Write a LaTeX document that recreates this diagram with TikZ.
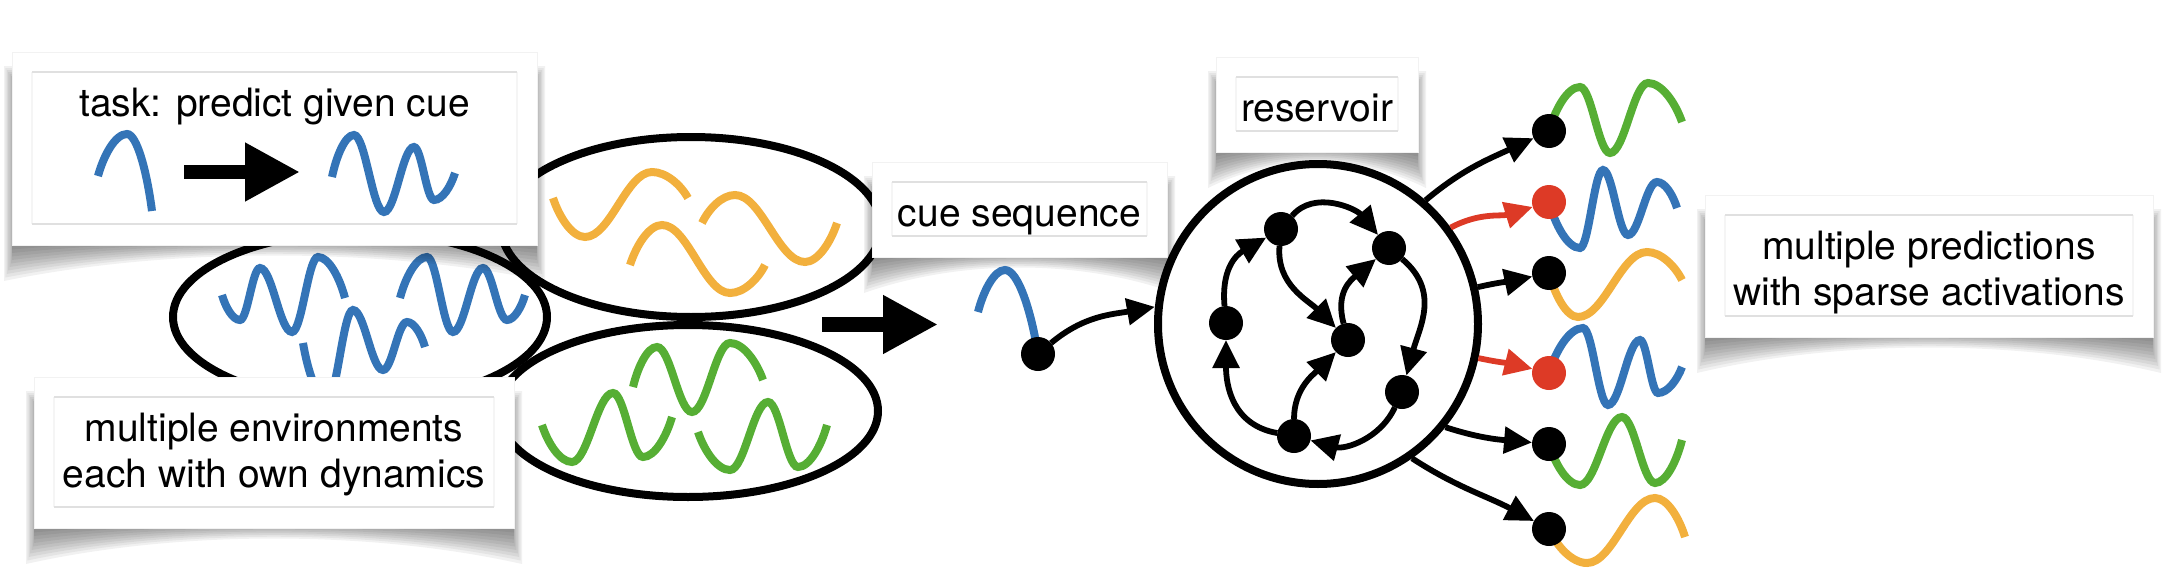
\documentclass[tikz,border=0pt]{standalone}
\usepackage{fontspec}
\setmainfont{TeX Gyre Heros}
\usetikzlibrary{arrows.meta,calc}
\definecolor{wblue}{RGB}{52,116,183}
\definecolor{worange}{RGB}{242,176,61}
\definecolor{wgreen}{RGB}{86,174,52}
\definecolor{dred}{RGB}{221,58,38}
\tikzset{
  ws/.style={to path={let \p1=(\tikztostart),\p2=(\tikztotarget) in
     .. controls +({0.2*(\x2-\x1)},{0.5*(\y2-\y1)}) and +({-0.4*(\x2-\x1)},0pt) .. (\p2)}},
  hw/.style={to path={let \p1=(\tikztostart),\p2=(\tikztotarget) in
     .. controls +({0.38*(\x2-\x1)},0pt) and +({-0.38*(\x2-\x1)},0pt) .. (\p2)}},
  we/.style={to path={let \p1=(\tikztostart),\p2=(\tikztotarget) in
     .. controls +({0.4*(\x2-\x1)},0pt) and +({-0.2*(\x2-\x1)},{-0.5*(\y2-\y1)}) .. (\p2)}},
}
\newcommand\cshadow[4]{%
  \foreach \i in {0,...,9}{%
    \fill[black,opacity=0.055]
      ({#1-max(0,8-1.4*\i)},{#2+14+2*\i}) --
      ({#1-max(0,8-1.4*\i)},{#4+36-3.5*\i}) .. controls
      ({#1+0.3*(#3-#1)},{#4+2-1.2*\i}) and ({#3-0.3*(#3-#1)},{#4+2-1.2*\i}) ..
      ({#3+max(0,8-1.4*\i)},{#4+36-3.5*\i}) --
      ({#3+max(0,8-1.4*\i)},{#2+14+2*\i}) -- cycle;
  }%
}
\newcommand\infobox[4]{%
  \cshadow{#1}{#2}{#3}{#4}
  \fill[white] (#1,#2) rectangle (#3,#4);
  \draw[black!5, line width=0.1mm] (#1,#2) rectangle (#3,#4);
  \draw[black!4, line width=0.12mm] ({#1+20},{#2+20}) -- ({#1+20},{#4-21}) ({#3-20},{#2+20}) -- ({#3-20},{#4-21});
  \draw[black!12, line width=0.15mm] ({#1+20},{#2+20}) -- ({#3-20},{#2+20}) ({#1+20},{#4-21}) -- ({#3-20},{#4-21});
}
\begin{document}
\begin{tikzpicture}[x=0.1mm,y=-0.1mm,
  wave/.style={line width=0.8mm},
  ell/.style={draw=black,line width=0.8mm},
  lbl/.style={font=\fontsize{11.1}{13.1}\selectfont,inner sep=0pt,text=black},
  nd/.style={circle,fill=black,inner sep=0pt,minimum size=3.4mm,outer sep=0pt},
  rnd/.style={nd,fill=dred},
  rarr/.style={line width=0.58mm,-{Triangle[length=2.8mm,width=2.6mm]}},
  fat/.style={line width=1.45mm,-{Triangle[length=5.5mm,width=5.5mm]}},
]
\useasboundingbox (0,0) rectangle (2174,568);

% environments
\draw[ell] (360,317) ellipse [x radius=18.7mm, y radius=8.5mm];
\draw[ell] (691,227) ellipse [x radius=19mm, y radius=9mm];
\draw[ell] (688,411) ellipse [x radius=19mm, y radius=8.6mm];

\draw[wave,wblue] (222,295) to[ws] (240,320) to[hw] (260,268) to[hw] (292,332) to[hw] (318,257) to[we] (345,298);
\draw[wave,wblue] (303,343) to[ws] (327,400) to[hw] (353,310) to[hw] (383,370) to[hw] (407,322) to[we] (425,347);
\draw[wave,wblue] (400,298) to[ws] (427,257) to[hw] (453,332) to[hw] (483,268) to[hw] (507,320) to[we] (525,295);

\draw[wave,worange] (553,198) to[ws] (585,237) to[hw] (652,172) to[we] (688,198);
\draw[wave,worange] (630,265) to[ws] (662,225) to[hw] (730,293) to[we] (765,265);
\draw[wave,worange] (702,223) to[ws] (735,195) to[hw] (805,262) to[we] (837,223);

\draw[wave,wgreen] (542,425) to[ws] (572,462) to[hw] (613,393) to[hw] (643,457) to[we] (672,417);
\draw[wave,wgreen] (633,387) to[ws] (657,347) to[hw] (692,412) to[hw] (730,343) to[we] (763,380);
\draw[wave,wgreen] (698,432) to[ws] (730,470) to[hw] (768,402) to[hw] (798,467) to[we] (827,425);

% boxes
\infobox{12}{52}{537}{245}
\node[lbl,anchor=base] (tasktxt) at (274.5,116) {task: predict given cue};
\draw[wave,wblue] (98,176) to[ws] (127,134) to[we] (152,211);
\coordinate (ta1) at (184,172);
\coordinate (ta2) at (300,172);
\draw[fat] (ta1) -- (ta2);
\draw[wave,wblue] (332,177) to[ws] (354,135) to[hw] (384,212) to[hw] (414,147) to[hw] (434,200) to[we] (455,173);

\infobox{34}{377}{514}{528}
\node[lbl,align=center] (envtxt) at (274,455) {multiple environments\\each with own dynamics};

\infobox{872}{162}{1167}{257}
\node[lbl,anchor=base] (cuetxt) at (1019.5,226) {cue sequence};

\infobox{1216}{57}{1418}{152}
\node[lbl,anchor=base] (restxt) at (1317,121) {reservoir};

\infobox{1705}{195}{2153}{337}
\node[lbl,align=center] (predtxt) at (1929,273) {multiple predictions\\with sparse activations};

% big arrow
\coordinate (ba1) at (822,324.5);
\coordinate (ba2) at (938,324.5);
\draw[fat] (ba1) -- (ba2);

% cue
\coordinate (cuec) at (1038,354);
\draw[wave,wblue] (978,312) to[ws] (1005,270) to[we] (cuec);
\node[nd] (cue) at (cuec) {};

% reservoir
\node[circle,draw,line width=0.8mm,fill=white,minimum size=32mm,inner sep=0pt] (res) at (1318,324) {};
\draw[rarr] (cue) to[out=40,in=190] (res.174);

\node[nd] (nA) at (1281,229) {};
\node[nd] (nB) at (1389,248) {};
\node[nd] (nC) at (1226,323) {};
\node[nd] (nD) at (1348,340) {};
\node[nd] (nE) at (1402,392) {};
\node[nd] (nF) at (1294,436) {};
\draw[rarr] (nC) to[out=95,in=210,looseness=1.15] (nA);
\draw[rarr] (nA) to[out=50,in=130] (nB);
\draw[rarr] (nA) to[out=-95,in=135] (nD);
\draw[rarr] (nD) to[out=105,in=220,looseness=1.15] (nB);
\draw[rarr] (nB) to[out=-40,in=75,looseness=1.1] (nE);
\draw[rarr] (nE) to[out=-115,in=-15] (nF);
\draw[rarr] (nF) to[out=170,in=-90,looseness=1.1] (nC);
\draw[rarr] (nF) to[out=90,in=225] (nD);

% outputs
\coordinate (o1c) at (1549,131);
\coordinate (o2c) at (1549,202);
\coordinate (o3c) at (1549,273);
\coordinate (o4c) at (1549,373);
\coordinate (o5c) at (1549,444);
\coordinate (o6c) at (1549,529);
\draw[wave,wgreen] (o1c) to[ws] (1580,87) to[hw] (1610,153) to[hw] (1648,83) to[we] (1682,122);
\draw[wave,wblue] (o2c) to[ws] (1580,248) to[hw] (1603,170) to[hw] (1628,235) to[hw] (1657,182) to[we] (1677,208);
\draw[wave,worange] (o3c) to[ws] (1578,317) to[hw] (1647,252) to[we] (1682,280);
\draw[wave,wblue] (o4c) to[ws] (1583,328) to[hw] (1608,405) to[hw] (1640,340) to[hw] (1658,393) to[we] (1682,367);
\draw[wave,wgreen] (o5c) to[ws] (1580,485) to[hw] (1622,417) to[hw] (1655,483) to[we] (1682,440);
\draw[wave,worange] (o6c) to[ws] (1587,563) to[hw] (1655,498) to[we] (1685,537);
\node[nd] (o1) at (o1c) {};
\node[rnd] (o2) at (o2c) {};
\node[nd] (o3) at (o3c) {};
\node[rnd] (o4) at (o4c) {};
\node[nd] (o5) at (o5c) {};
\node[nd] (o6) at (o6c) {};
\draw[rarr] (res.49) to[out=40,in=205] (o1);
\draw[rarr,dred] (res.36) to[out=28,in=197] (o2);
\draw[rarr] (res.13) to[out=13,in=192] (o3);
\draw[rarr,dred] (res.-12) to[out=-12,in=166] (o4);
\draw[rarr] (res.-39) to[out=-18,in=175] (o5);
\draw[rarr] (res.-55) to[out=-33,in=152] (o6);
\end{tikzpicture}
\end{document}
